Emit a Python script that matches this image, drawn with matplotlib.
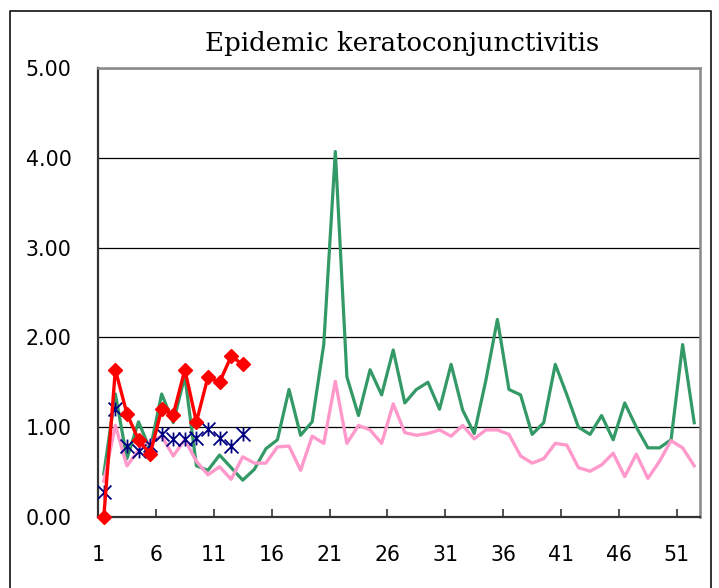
import matplotlib.pyplot as plt
from matplotlib.path import Path
from matplotlib.lines import Line2D

weeks = list(range(1, 53))
weeks_now = list(range(1, 14))

# green line, all 52 weeks
prev_year = [0.48, 1.37, 0.65, 1.06, 0.75, 1.37, 1.05, 1.57, 0.57, 0.52,
             0.69, 0.55, 0.41, 0.53, 0.76, 0.86, 1.42, 0.91, 1.06, 1.92,
             4.07, 1.56, 1.13, 1.64, 1.36, 1.86, 1.27, 1.42, 1.50, 1.20,
             1.70, 1.19, 0.93, 1.52, 2.20, 1.42, 1.36, 0.92, 1.05, 1.70,
             1.36, 1.00, 0.92, 1.13, 0.86, 1.27, 1.00, 0.77, 0.77, 0.86,
             1.92, 1.05]
# pink line, all 52 weeks
average = [0.40, 1.02, 0.57, 0.74, 0.84, 0.90, 0.68, 0.86, 0.62, 0.47,
           0.56, 0.42, 0.67, 0.60, 0.60, 0.78, 0.79, 0.52, 0.90, 0.82,
           1.51, 0.82, 1.02, 0.97, 0.82, 1.26, 0.94, 0.91, 0.93, 0.97,
           0.90, 1.02, 0.87, 0.97, 0.97, 0.92, 0.68, 0.60, 0.65, 0.82,
           0.80, 0.55, 0.51, 0.58, 0.71, 0.45, 0.70, 0.43, 0.62, 0.85,
           0.77, 0.57]
# red diamonds and navy asterisks, first 13 weeks
this_year = [0.00, 1.64, 1.15, 0.86, 0.70, 1.20, 1.14, 1.64, 1.06, 1.56,
             1.50, 1.79, 1.70]
national = [0.28, 1.20, 0.79, 0.74, 0.80, 0.92, 0.87, 0.87, 0.88, 0.98,
            0.88, 0.79, 0.92]

xtick_labels = ['1', '6', '11', '16', '21', '26', '31', '36', '41', '46', '51']
ytick_values = [0, 1, 2, 3, 4, 5]

# excel style star: an x with a vertical bar
star = Path([(-0.5, -0.5), (0.5, 0.5), (-0.5, 0.5), (0.5, -0.5), (0, -0.5), (0, 0.5)],
            [Path.MOVETO, Path.LINETO, Path.MOVETO, Path.LINETO, Path.MOVETO, Path.LINETO])

fig = plt.figure(figsize=(7.19, 5.88), dpi=100)
ax = fig.add_axes([98 / 719, 1 - 517 / 588, 602 / 719, 449 / 588])

ax.plot(weeks, prev_year, color='#339966', lw=2.3, zorder=3)
ax.plot(weeks, average, color='#FF99CC', lw=2.4, zorder=4)
ax.plot(weeks_now, national, ls='none', marker=star, ms=10, mew=1.3,
        mec='#000080', mfc='none', zorder=5)
ax.plot(weeks_now, this_year, color='#FF0000', lw=2.4, marker='D', ms=7.5,
        mfc='#FF0000', mec='#FF0000', zorder=6, clip_on=False)

ax.set_xlim(0.5, 52.5)
ax.set_ylim(0, 5)

ax.set_xticks([0.5 + 5 * i for i in range(len(xtick_labels))])
ax.set_xticklabels(xtick_labels)
ax.set_yticks(ytick_values)
ax.set_yticklabels(['%.2f' % v for v in ytick_values])
ax.tick_params(axis='x', direction='in', length=6, width=1.2, color='#333333',
               pad=20, labelsize=14.8)
ax.tick_params(axis='y', length=0, pad=19, labelsize=14.8)

ax.grid(axis='y', color='black', lw=0.9)
ax.set_axisbelow(True)

for side in ['left', 'bottom']:
    ax.spines[side].set_color('#333333')
    ax.spines[side].set_linewidth(1.6)
for side in ['top', 'right']:
    ax.spines[side].set_color('#888888')
    ax.spines[side].set_linewidth(1.8)

fig.text(402 / 719, 1 - 43 / 588, 'Epidemic keratoconjunctivitis',
         family='DejaVu Serif', fontsize=18.7, ha='center', va='center')

# outer chart frame (bottom edge lies below the image)
fig.add_artist(Line2D([10 / 719, 10 / 719, 711 / 719, 711 / 719],
                      [-0.01, 1 - 11 / 588, 1 - 11 / 588, -0.01],
                      color='#222222', lw=1.3))

fig.savefig('out.png', dpi=100)
